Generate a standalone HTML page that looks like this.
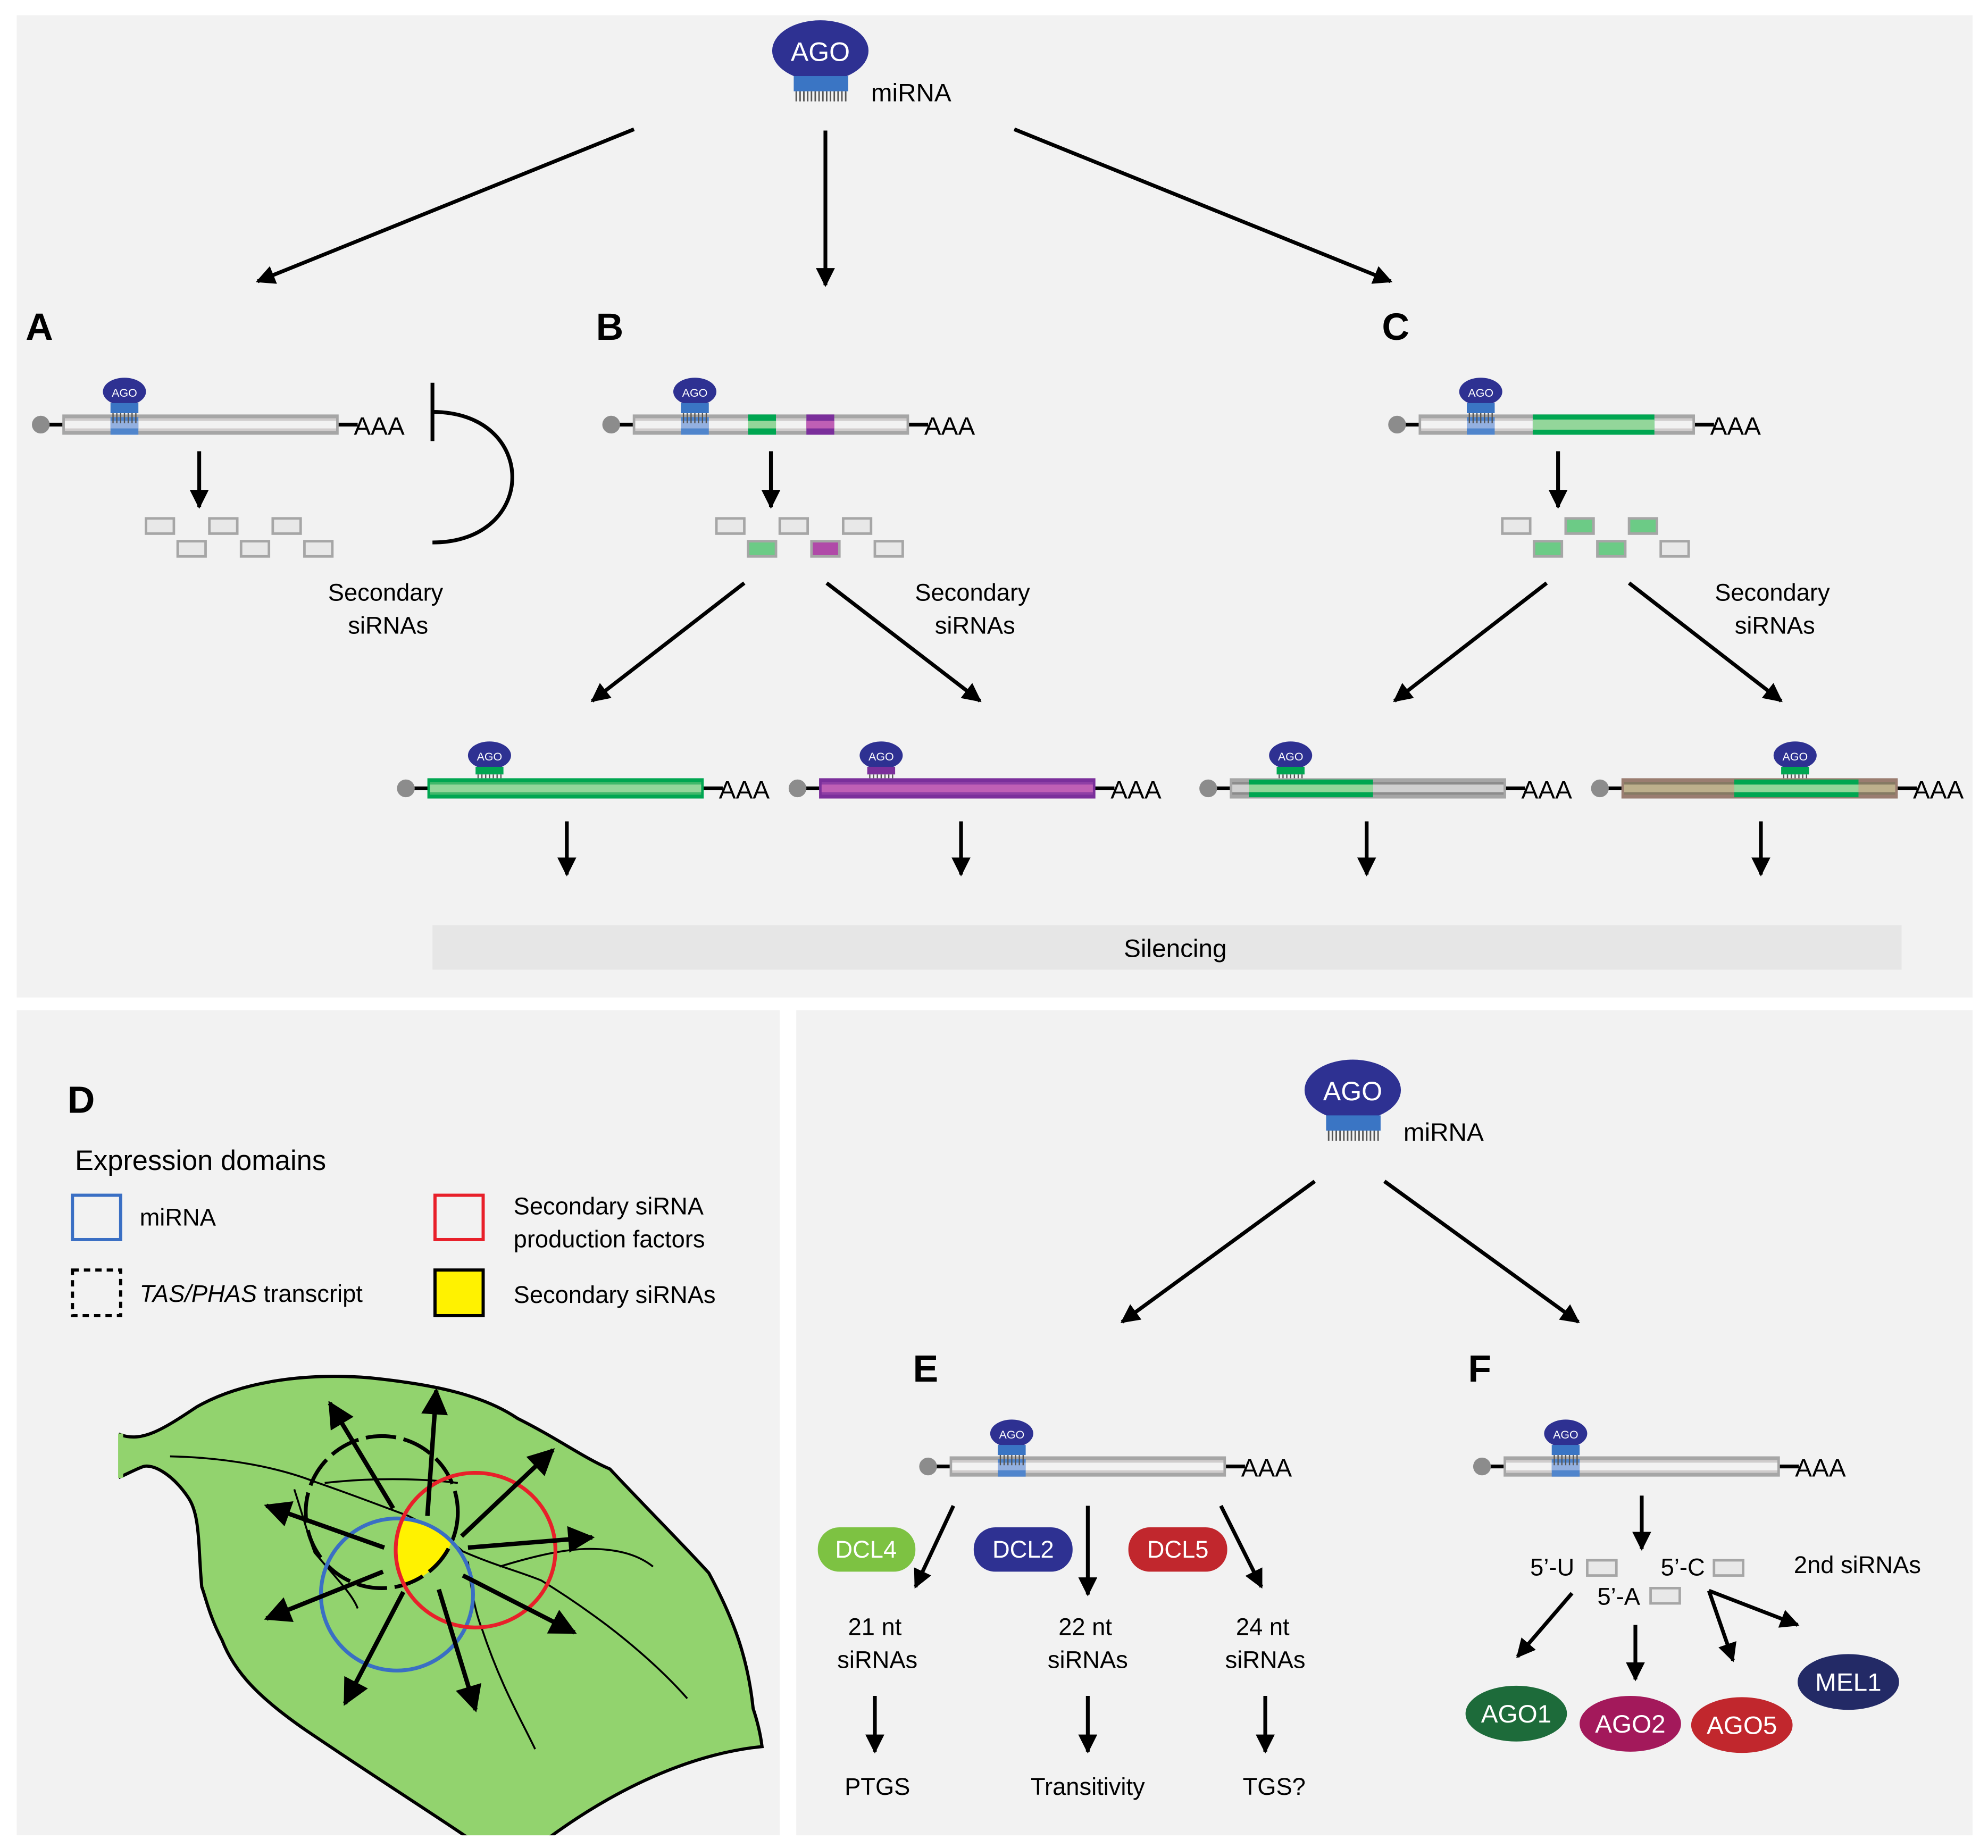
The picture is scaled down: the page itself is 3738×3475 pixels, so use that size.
<!DOCTYPE html>
<html><head><meta charset="utf-8"><style>
html,body{margin:0;padding:0;background:#fff;}
svg{display:block;}
text{font-family:"Liberation Sans",sans-serif;}
</style></head><body>
<svg width="3738" height="3475" viewBox="0 0 1568 1458" xmlns="http://www.w3.org/2000/svg">
<defs>
<marker id="ah" viewBox="0 0 10 10" refX="9" refY="5" markerWidth="5" markerHeight="5" orient="auto-start-reverse" markerUnits="strokeWidth"><path d="M0,0 L10,5 L0,10 z" fill="#000"/></marker>
<marker id="ahb" viewBox="0 0 10 10" refX="9" refY="5" markerWidth="6.5" markerHeight="6" orient="auto" markerUnits="strokeWidth"><path d="M0,0 L10,5 L0,10 z" fill="#000"/></marker>
<clipPath id="cRed"><ellipse cx="375" cy="1223" rx="63" ry="61"/></clipPath>
<clipPath id="cDash"><ellipse cx="301" cy="1193" rx="60" ry="60"/></clipPath>
</defs>
<rect width="1568" height="1458" fill="#fff"/>
<rect x="13" y="12" width="1543" height="775" fill="#f2f2f2"/>
<rect x="13" y="797" width="602" height="651" fill="#f2f2f2"/>
<rect x="628" y="797" width="928" height="651" fill="#f2f2f2"/>

<g stroke="#000" stroke-width="3" fill="none" marker-end="url(#ah)">
<line x1="500" y1="102" x2="203" y2="222"/>
<line x1="651" y1="103" x2="651" y2="225"/>
<line x1="800" y1="102" x2="1097" y2="222"/>
<line x1="157" y1="356" x2="157" y2="400"/>
<line x1="608" y1="356" x2="608" y2="400"/>
<line x1="1229" y1="356" x2="1229" y2="400"/>
<line x1="587" y1="460" x2="467" y2="553"/>
<line x1="652" y1="460" x2="773" y2="553"/>
<line x1="1220" y1="460" x2="1100" y2="553"/>
<line x1="1285" y1="460" x2="1405" y2="553"/>
<line x1="447" y1="648" x2="447" y2="690"/>
<line x1="758" y1="648" x2="758" y2="690"/>
<line x1="1078" y1="648" x2="1078" y2="690"/>
<line x1="1389" y1="648" x2="1389" y2="690"/>
<line x1="1037" y1="932" x2="885" y2="1043"/>
<line x1="1092" y1="932" x2="1245" y2="1043"/>
<line x1="752" y1="1188" x2="722" y2="1252"/>
<line x1="858" y1="1188" x2="858" y2="1258"/>
<line x1="963" y1="1188" x2="995" y2="1252"/>
<line x1="690" y1="1338" x2="690" y2="1382"/>
<line x1="858" y1="1338" x2="858" y2="1382"/>
<line x1="998" y1="1338" x2="998" y2="1382"/>
<line x1="1295" y1="1180" x2="1295" y2="1222"/>
<line x1="1240" y1="1257" x2="1197" y2="1307"/>
<line x1="1290" y1="1282" x2="1290" y2="1325"/>
<line x1="1348" y1="1255" x2="1367" y2="1310"/>
<line x1="1348" y1="1255" x2="1418" y2="1282"/>
</g>

<!-- top AGO -->
<ellipse cx="647" cy="40" rx="38" ry="24" fill="#2e3192"/>
<text x="647" y="48" font-size="21" fill="#fff" text-anchor="middle">AGO</text>
<rect x="626" y="60" width="43" height="12" fill="#3a75c4"/>
<g stroke="#555" stroke-width="1.2"><path d="M628,72v8M631,72v8M634,72v8M637,72v8M640,72v8M643,72v8M646,72v8M649,72v8M652,72v8M655,72v8M658,72v8M661,72v8M664,72v8M667,72v8"/></g>
<text x="687" y="80" font-size="20">miRNA</text>

<ellipse cx="1067" cy="860" rx="38" ry="24" fill="#2e3192"/>
<text x="1067" y="868" font-size="21" fill="#fff" text-anchor="middle">AGO</text>
<rect x="1046" y="880" width="43" height="12" fill="#3a75c4"/>
<g stroke="#555" stroke-width="1.2"><path d="M1048,892v8M1051,892v8M1054,892v8M1057,892v8M1060,892v8M1063,892v8M1066,892v8M1069,892v8M1072,892v8M1075,892v8M1078,892v8M1081,892v8M1084,892v8M1087,892v8"/></g>
<text x="1107" y="900" font-size="20">miRNA</text>

<g font-size="30" font-weight="bold">
<text x="20" y="268">A</text><text x="470" y="268">B</text><text x="1090" y="268">C</text>
<text x="53" y="878">D</text><text x="720" y="1090">E</text><text x="1158" y="1090">F</text>
</g>

<!-- transcripts -->
<g id="tA" transform="translate(32,335)">
<line x1="0" y1="0" x2="250" y2="0" stroke="#000" stroke-width="3"/>
<ellipse cx="0" cy="0" rx="7" ry="7" fill="#8c8c8c"/>
<rect x="17" y="-8" width="218" height="16" fill="#a6a6a6"/>
<rect x="19" y="-5" width="214" height="10" fill="#cfcccc"/>
<rect x="19" y="-3" width="214" height="6" fill="#f2f2f2"/>
<rect x="55" y="-6" width="22" height="14" fill="#5085cc"/><rect x="55" y="-3" width="22" height="6" fill="#93b0e0"/>
<text x="247" y="8" font-size="20">AAA</text>
<ellipse cx="66" cy="-26" rx="17" ry="11" fill="#2e3192"/>
<text x="66" y="-22" font-size="9" fill="#fff" text-anchor="middle">AGO</text>
<rect x="55" y="-17" width="22" height="8" fill="#3a75c4"/>
<path d="M57,-9v8M60,-9v8M63,-9v8M66,-9v8M69,-9v8M72,-9v8M75,-9v8" stroke="#555" stroke-width="1"/>
</g>
<use href="#tA" x="450" y="0"/>
<use href="#tA" x="1070" y="0"/>
<use href="#tA" x="700" y="822"/>
<use href="#tA" x="1137" y="822"/>
<!-- B colored segments -->
<rect x="590" y="327" width="22" height="16" fill="#00a651"/><rect x="590" y="332" width="22" height="6" fill="#93d69a"/>
<rect x="636" y="327" width="22" height="16" fill="#7b2f9b"/><rect x="636" y="332" width="22" height="6" fill="#bf5fb5"/>
<!-- C green segment -->
<rect x="1209" y="327" width="96" height="16" fill="#00a651"/><rect x="1209" y="331" width="96" height="8" fill="#93d69a"/>

<!-- lower transcripts -->
<g stroke="#000" stroke-width="3">
<line x1="320" y1="622" x2="570" y2="622"/><line x1="629" y1="622" x2="879" y2="622"/>
<line x1="953" y1="622" x2="1203" y2="622"/><line x1="1262" y1="622" x2="1512" y2="622"/>
</g>
<g fill="#8c8c8c"><circle cx="320" cy="622" r="7"/><circle cx="629" cy="622" r="7"/><circle cx="953" cy="622" r="7"/><circle cx="1262" cy="622" r="7"/></g>
<rect x="337" y="614" width="218" height="16" fill="#00a651"/><rect x="339" y="617" width="214" height="10" fill="#3fb86a"/><rect x="339" y="619" width="214" height="6" fill="#93d69a"/>
<rect x="646" y="614" width="218" height="16" fill="#7b2f9b"/><rect x="648" y="617" width="214" height="10" fill="#8f3fa5"/><rect x="648" y="619" width="214" height="6" fill="#bf5fb5"/>
<rect x="970" y="614" width="218" height="16" fill="#a6a6a6"/><rect x="972" y="617" width="214" height="10" fill="#8c8c8c"/><rect x="972" y="619" width="214" height="6" fill="#d0d0d0"/>
<rect x="985" y="615" width="98" height="14" fill="#00a651"/><rect x="985" y="619" width="98" height="6" fill="#93d69a"/>
<rect x="1279" y="614" width="218" height="16" fill="#9a7d70"/><rect x="1281" y="617" width="214" height="10" fill="#857a63"/><rect x="1281" y="619" width="214" height="6" fill="#bdb08c"/>
<rect x="1368" y="615" width="98" height="14" fill="#00a651"/><rect x="1368" y="619" width="98" height="6" fill="#93d69a"/>
<g font-size="20"><text x="567" y="630">AAA</text><text x="876" y="630">AAA</text><text x="1200" y="630">AAA</text><text x="1509" y="630">AAA</text></g>
<g>
<ellipse cx="386" cy="596" rx="17" ry="11" fill="#2e3192"/><text x="386" y="600" font-size="9" fill="#fff" text-anchor="middle">AGO</text>
<rect x="375" y="605" width="22" height="6" fill="#00a651"/>
<ellipse cx="695" cy="596" rx="17" ry="11" fill="#2e3192"/><text x="695" y="600" font-size="9" fill="#fff" text-anchor="middle">AGO</text>
<rect x="684" y="605" width="22" height="6" fill="#7b2f9b"/>
<ellipse cx="1018" cy="596" rx="17" ry="11" fill="#2e3192"/><text x="1018" y="600" font-size="9" fill="#fff" text-anchor="middle">AGO</text>
<rect x="1007" y="605" width="22" height="6" fill="#00a651"/>
<ellipse cx="1416" cy="596" rx="17" ry="11" fill="#2e3192"/><text x="1416" y="600" font-size="9" fill="#fff" text-anchor="middle">AGO</text>
<rect x="1405" y="605" width="22" height="6" fill="#00a651"/>
<path d="M377,611v3M380,611v3M383,611v3M386,611v3M389,611v3M392,611v3M395,611v3 M686,611v3M689,611v3M692,611v3M695,611v3M698,611v3M701,611v3M704,611v3 M1009,611v3M1012,611v3M1015,611v3M1018,611v3M1021,611v3M1024,611v3M1027,611v3 M1407,611v3M1410,611v3M1413,611v3M1416,611v3M1419,611v3M1422,611v3M1425,611v3" stroke="#555" stroke-width="1"/>
</g>

<!-- small siRNA boxes -->
<g stroke="#a6a6a6" stroke-width="2">
<g fill="#e8e8e8">
<rect x="115" y="409" width="22" height="12"/><rect x="165" y="409" width="22" height="12"/><rect x="215" y="409" width="22" height="12"/>
<rect x="140" y="427" width="22" height="12"/><rect x="190" y="427" width="22" height="12"/><rect x="240" y="427" width="22" height="12"/>
<rect x="565" y="409" width="22" height="12"/><rect x="615" y="409" width="22" height="12"/><rect x="665" y="409" width="22" height="12"/>
<rect x="690" y="427" width="22" height="12"/>
<rect x="1185" y="409" width="22" height="12"/><rect x="1310" y="427" width="22" height="12"/>
<rect x="1252" y="1231" width="23" height="12"/><rect x="1352" y="1231" width="23" height="12"/><rect x="1302" y="1253" width="23" height="12"/>
</g>
<g fill="#6ccb86">
<rect x="590" y="427" width="22" height="12"/>
<rect x="1235" y="409" width="22" height="12"/><rect x="1285" y="409" width="22" height="12"/>
<rect x="1210" y="427" width="22" height="12"/><rect x="1260" y="427" width="22" height="12"/>
</g>
<rect x="640" y="427" width="22" height="12" fill="#b04aa8"/>
</g>

<!-- inhibition A -->
<line x1="341" y1="302" x2="341" y2="348" stroke="#000" stroke-width="3"/>
<path d="M341,325 C425,325 425,428 341,428" stroke="#000" stroke-width="3" fill="none"/>

<g font-size="19" text-anchor="middle">
<text x="304" y="474">Secondary</text><text x="306" y="500">siRNAs</text>
<text x="767" y="474">Secondary</text><text x="769" y="500">siRNAs</text>
<text x="1398" y="474">Secondary</text><text x="1400" y="500">siRNAs</text>
</g>

<rect x="341" y="730" width="1159" height="35" fill="#e6e6e6"/>
<text x="927" y="755" font-size="20" text-anchor="middle">Silencing</text>

<!-- Panel D legend -->
<text x="59" y="923" font-size="22">Expression domains</text>
<rect x="57" y="943" width="38" height="35" fill="none" stroke="#3a6fc4" stroke-width="2.5"/>
<text x="110" y="967" font-size="19">miRNA</text>
<rect x="57" y="1002" width="38" height="36" fill="none" stroke="#000" stroke-width="2.5" stroke-dasharray="5,4"/>
<text x="110" y="1027" font-size="19"><tspan font-style="italic">TAS/PHAS</tspan> transcript</text>
<rect x="343" y="943" width="38" height="35" fill="none" stroke="#e8202a" stroke-width="2.5"/>
<text x="405" y="958" font-size="19">Secondary siRNA</text>
<text x="405" y="984" font-size="19">production factors</text>
<rect x="343" y="1002" width="38" height="36" fill="#fff200" stroke="#000" stroke-width="2.5"/>
<text x="405" y="1028" font-size="19">Secondary siRNAs</text>

<!-- leaf -->
<path d="M95,1132 C112,1138 128,1128 155,1110 C190,1090 240,1083 291,1087 C340,1092 380,1100 408,1119 C440,1135 460,1150 481,1159 C510,1190 540,1220 559,1241 C580,1280 590,1310 594,1348 C598,1360 600,1370 601,1378 C560,1382 500,1400 430,1452 L372,1452 C340,1430 300,1405 241,1365 C205,1340 185,1320 175,1294 C165,1275 162,1260 159,1252 C156,1220 158,1195 148,1181 C135,1162 120,1155 113,1157 C105,1160 100,1163 95,1165 Z" fill="#92d36e" stroke="#000" stroke-width="2.5"/>
<rect x="93" y="1131" width="4" height="35" fill="#92d36e"/>
<rect x="13" y="1448" width="602" height="10" fill="#fff"/>
<g stroke="#000" stroke-width="1.5" fill="none">
<path d="M134,1149 C180,1150 220,1158 248,1169 C280,1180 300,1188 322,1196 C340,1205 355,1215 365,1224 C390,1235 410,1240 427,1247 C440,1255 455,1265 466,1273 C490,1290 520,1315 542,1340"/>
<path d="M256,1170 C290,1166 330,1166 361,1170"/>
<path d="M232,1175 C240,1200 244,1215 248,1225 C265,1245 278,1258 282,1269"/>
<path d="M369,1232 C372,1260 376,1275 380,1285 C395,1330 410,1355 422,1380"/>
<path d="M394,1236 C420,1228 445,1222 465,1222 C490,1222 505,1228 515,1236"/>
</g>
<g clip-path="url(#cDash)"><ellipse cx="313" cy="1258" rx="60" ry="60" fill="#fff200" clip-path="url(#cRed)"/></g>
<ellipse cx="301" cy="1193" rx="60" ry="60" fill="none" stroke="#000" stroke-width="3" stroke-dasharray="24,6"/>
<ellipse cx="313" cy="1258" rx="60" ry="60" fill="none" stroke="#3a6fc4" stroke-width="3"/>
<ellipse cx="375" cy="1223" rx="63" ry="61" fill="none" stroke="#e8202a" stroke-width="3"/>
<g stroke="#000" stroke-width="3.5" fill="none" marker-end="url(#ahb)">
<line x1="310" y1="1190" x2="260" y2="1107"/>
<line x1="337" y1="1196" x2="344" y2="1097"/>
<line x1="364" y1="1212" x2="436" y2="1144"/>
<line x1="369" y1="1221" x2="467" y2="1213"/>
<line x1="365" y1="1243" x2="453" y2="1288"/>
<line x1="346" y1="1254" x2="375" y2="1349"/>
<line x1="318" y1="1256" x2="272" y2="1344"/>
<line x1="302" y1="1240" x2="210" y2="1277"/>
<line x1="303" y1="1221" x2="210" y2="1188"/>
</g>

<!-- Panel E -->
<rect x="645" y="1205" width="77" height="35" rx="17" fill="#7dc242"/>
<text x="683" y="1229" font-size="19" fill="#fff" text-anchor="middle">DCL4</text>
<rect x="768" y="1205" width="78" height="35" rx="17" fill="#2e3192"/>
<text x="807" y="1229" font-size="19" fill="#fff" text-anchor="middle">DCL2</text>
<rect x="890" y="1205" width="78" height="35" rx="17" fill="#c1272d"/>
<text x="929" y="1229" font-size="19" fill="#fff" text-anchor="middle">DCL5</text>
<g font-size="19" text-anchor="middle">
<text x="690" y="1290">21 nt</text><text x="692" y="1316">siRNAs</text>
<text x="856" y="1290">22 nt</text><text x="858" y="1316">siRNAs</text>
<text x="996" y="1290">24 nt</text><text x="998" y="1316">siRNAs</text>
<text x="692" y="1416">PTGS</text><text x="858" y="1416">Transitivity</text><text x="1005" y="1416">TGS?</text>
</g>

<!-- Panel F -->
<g font-size="19">
<text x="1207" y="1243">5’-U</text><text x="1310" y="1243">5’-C</text><text x="1260" y="1266">5’-A</text>
<text x="1415" y="1241">2nd siRNAs</text>
</g>
<ellipse cx="1196" cy="1352" rx="40" ry="22" fill="#1d6b3a"/>
<ellipse cx="1286" cy="1360" rx="40" ry="22" fill="#a3195b"/>
<ellipse cx="1374" cy="1361" rx="40" ry="22" fill="#c1272d"/>
<ellipse cx="1458" cy="1327" rx="40" ry="22" fill="#232a66"/>
<g font-size="20" fill="#fff" text-anchor="middle">
<text x="1196" y="1359">AGO1</text><text x="1286" y="1367">AGO2</text><text x="1374" y="1368">AGO5</text><text x="1458" y="1334">MEL1</text>
</g>
</svg>
</body></html>
